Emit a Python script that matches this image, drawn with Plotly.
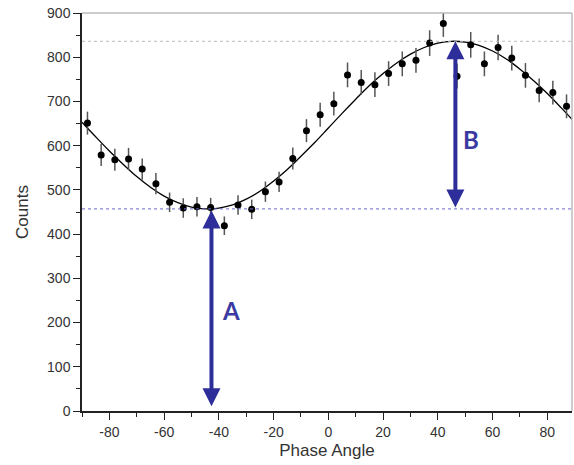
import plotly.graph_objects as go

# Measured data points
phase = [-88, -83, -78, -73, -68, -63, -58, -53, -48, -43, -38, -33, -28, -23, -18, -13, -8, -3,
         2, 7, 12, 17, 22, 27, 32, 37, 42, 47, 52, 57, 62, 67, 72, 77, 82, 87]
counts = [651, 579, 568, 570, 547, 514, 472, 459, 462, 460, 419, 466, 456, 496, 518, 571, 634, 670,
          695, 760, 743, 738, 763, 785, 793, 832, 876, 757, 828, 785, 822, 798, 759, 725, 720, 689]
errors = [26, 25, 25, 25, 24, 24, 22, 22, 22, 22, 21, 22, 22, 23, 23, 25, 26, 27,
          27, 28, 28, 28, 28, 28, 28, 29, 30, 28, 29, 28, 29, 28, 28, 27, 27, 27]

# Fit curve (every 5 degrees)
fit_x = [-90, -85, -80, -75, -70, -65, -60, -55, -50, -45, -40, -35, -30, -25, -20, -15, -10, -5,
         0, 5, 10, 15, 20, 25, 30, 35, 40, 45, 50, 55, 60, 65, 70, 75, 80, 85, 90]
fit_y = [653, 620, 588, 558, 530, 506, 486, 471, 461, 457, 459, 466, 479, 497, 520, 546, 576, 607,
         640, 673, 705, 736, 763, 787, 807, 822, 832, 836, 834, 827, 814, 796, 773, 747, 718, 686, 653]

# Tick labels
x_tickvals = [-80, -60, -40, -20, 0, 20, 40, 60, 80]
x_ticktext = ["-80", "-60", "-40", "-20", "0", "20", "40", "60", "80"]

# Reference levels and arrows
level_min = 457
level_max = 836
arrow_a_x = -42.7
arrow_b_x = 46.4
arrow_a_bottom = 11

fig = go.Figure()

fig.add_trace(go.Scatter(
    x=fit_x, y=fit_y, mode="lines", line=dict(color="black", width=1.3, shape="spline"),
    hoverinfo="skip", showlegend=False))

fig.add_trace(go.Scatter(
    x=phase, y=counts, mode="markers",
    marker=dict(color="black", size=7),
    error_y=dict(type="data", array=errors, visible=True, color="#555555", thickness=1.5, width=0),
    showlegend=False))

# dotted reference lines
fig.add_shape(type="line", xref="paper", x0=0, x1=1, yref="y", y0=level_max, y1=level_max,
              line=dict(color="#bbbbbb", width=1, dash="dot"))
fig.add_shape(type="line", xref="paper", x0=0, x1=1, yref="y", y0=level_min, y1=level_min,
              line=dict(color="#6a6ac8", width=1, dash="dot"))

# gray top / right frame
fig.add_shape(type="line", xref="paper", yref="paper", x0=0, x1=1, y0=1, y1=1,
              line=dict(color="#bbbbbb", width=1.5))
fig.add_shape(type="line", xref="paper", yref="paper", x0=1, x1=1, y0=0, y1=1,
              line=dict(color="#bbbbbb", width=1.5))

arrow_color = "#2e2e9a"
# Arrow A
fig.add_annotation(x=arrow_a_x, y=arrow_a_bottom, ax=arrow_a_x, ay=level_min,
                   xref="x", yref="y", axref="x", ayref="y", text="",
                   showarrow=True, arrowhead=2, startarrowhead=2, arrowside="end+start",
                   arrowsize=0.9, startarrowsize=0.9, arrowwidth=4, arrowcolor=arrow_color)
# Arrow B
fig.add_annotation(x=arrow_b_x, y=level_max, ax=arrow_b_x, ay=level_min,
                   xref="x", yref="y", axref="x", ayref="y", text="",
                   showarrow=True, arrowhead=2, startarrowhead=2, arrowside="end+start",
                   arrowsize=0.9, startarrowsize=0.9, arrowwidth=4, arrowcolor=arrow_color)

fig.add_annotation(x=-35.5, y=228, text="A", showarrow=False,
                   font=dict(family="Lato, Noto Sans, sans-serif", size=24, color="#3a3aa0", weight="bold"))
fig.add_annotation(x=52, y=613, text="B", showarrow=False,
                   font=dict(family="Lato, Noto Sans, sans-serif", size=24, color="#3a3aa0", weight="bold"))

fig.update_layout(
    width=574, height=465,
    margin=dict(l=82, r=2, t=13, b=54),
    paper_bgcolor="white", plot_bgcolor="white",
    font=dict(family="Liberation Sans, Arial, sans-serif", color="#333333", size=14),
    xaxis=dict(range=[-90, 89], tickmode="array", tickvals=x_tickvals, ticktext=x_ticktext,
               automargin=False,
               ticks="outside", ticklen=7, tickwidth=1.3, tickcolor="#222",
               minor=dict(dtick=10, tick0=-90, ticks="outside", ticklen=4, tickcolor="#222", tickwidth=1.3),
               showline=True, linecolor="#222", linewidth=1.5, showgrid=False, zeroline=False,
               title=dict(text="Phase Angle", font=dict(size=17, color="#333"), standoff=6)),
    yaxis=dict(range=[0, 900], tickmode="linear", tick0=0, dtick=100, automargin=False,
               ticks="outside", ticklen=7, tickwidth=1.3, tickcolor="#222",
               minor=dict(dtick=50, ticks="outside", ticklen=4, tickcolor="#222", tickwidth=1.3),
               showline=True, linecolor="#222", linewidth=1.5, showgrid=False, zeroline=False,
               title=dict(text="Counts", font=dict(size=17, color="#333"), standoff=14)),
)

fig.write_html("out.html", config={"displayModeBar": False},
               post_script="document.body.style.margin='0';")
